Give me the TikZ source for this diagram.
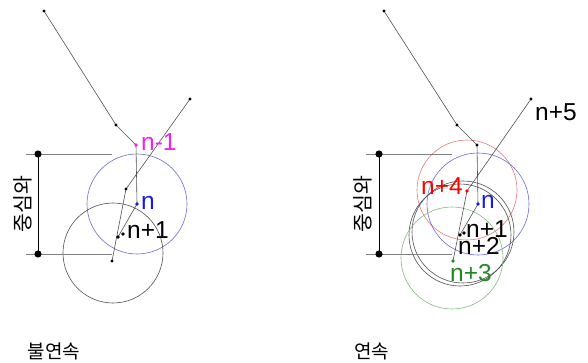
\documentclass[tikz,border=0pt]{standalone}
\usepackage{fontspec}
\setmainfont{Liberation Sans}
\newfontfamily\kor{Noto Sans CJK KR}
\definecolor{lnk}{HTML}{505050}
\definecolor{dim}{HTML}{808080}
\definecolor{cblue}{HTML}{6A6AD8}
\definecolor{tblue}{HTML}{1A1AE6}
\definecolor{cred}{HTML}{E07A7A}
\definecolor{cgreen}{HTML}{7DBB7D}
\definecolor{tgreen}{HTML}{238A23}
\definecolor{tmag}{HTML}{F020F0}

\begin{document}
\begin{tikzpicture}[x=1pt,y=-1pt,
    lbl/.style={inner sep=0pt,anchor=base west,font=\fontsize{24.5}{24.5}\selectfont},
    kr/.style={inner sep=0pt,font=\kor\fontsize{19}{19}\selectfont},
    krv/.style={inner sep=0pt,rotate=90,font=\kor\fontsize{20.5}{20.5}\selectfont}]
    \useasboundingbox (0,0) rectangle (588,363);

    % left: 불연속
    \coordinate (la) at (44,11);
    \coordinate (lb) at (116,125);
    \coordinate (lp) at (136,145);
    \coordinate (ln) at (137,204);
    \coordinate (lq) at (118,237);
    \coordinate (lr) at (123,234);
    \coordinate (lt) at (190,99);
    \coordinate (lu) at (126,189);
    \coordinate (lv) at (112,261);
    \coordinate (lc) at (113,253);

    \draw[cblue,line width=0.6pt] (ln) circle (50pt);
    \draw[lnk,line width=0.6pt] (lc) circle (50pt);
    \draw[lnk,line width=0.6pt] (la)--(lb)--(lp)--(ln)--(lq);
    \draw[lnk,line width=0.6pt] (lt)--(lu)--(lv);

    \fill (la) circle (1.6pt);
    \fill (lb) circle (1.6pt);
    \fill[tmag] (lp) circle (1.8pt);
    \fill[tblue] (ln) circle (1.8pt);
    \fill (lq) circle (1.8pt);
    \fill (lr) circle (1.8pt);
    \fill (lt) circle (1.6pt);
    \fill (lu) circle (1.6pt);
    \fill (lv) circle (1.6pt);

    \node[lbl,tmag] (lnm) at (141,151) {n-1};
    \node[lbl,tblue] (lnn) at (141,210) {n};
    \node[lbl] (lnp) at (127,238) {n+1};

    \coordinate (ld1) at (38,154);
    \coordinate (ld2) at (38,254);
    \draw[dim,line width=0.9pt] (26,154)--(112,154);
    \draw[dim,line width=0.9pt] (26,254)--(112,254);
    \draw[line width=0.6pt] (ld1)--(ld2);
    \fill (ld1) circle (3.6pt);
    \fill (ld2) circle (3.6pt);
    \node[krv] (lkor) at (22.5,204) {중심와};
    \node[kr] (ltitle) at (54,351) {불연속};

    % right: 연속
    \coordinate (ra) at (384,11);
    \coordinate (rb) at (457,125);
    \coordinate (rp) at (477,145);
    \coordinate (rn) at (478,204);
    \coordinate (rq) at (460,235);
    \coordinate (rr) at (464,233);
    \coordinate (rt) at (531,99);
    \coordinate (ru) at (467,191);
    \coordinate (rv) at (453,261);

    \draw[cred,line width=0.6pt] (467,190) circle (50pt);
    \draw[cblue,line width=0.6pt] (rn) circle (51pt);
    \draw[lnk,line width=0.6pt] (460,235) circle (51pt);
    \draw[lnk,line width=0.6pt] (463,232) circle (51pt);
    \draw[cgreen,line width=0.6pt] (452,258) circle (51pt);
    \draw[lnk,line width=0.6pt] (ra)--(rb)--(rp)--(rn)--(rq);
    \draw[lnk,line width=0.6pt] (rt)--(ru)--(rv);

    \fill (ra) circle (1.6pt);
    \fill (rb) circle (1.6pt);
    \fill (rp) circle (1.6pt);
    \fill[tblue] (rn) circle (1.8pt);
    \fill (rq) circle (1.8pt);
    \fill (rr) circle (1.8pt);
    \fill (rt) circle (1.6pt);
    \fill[red] (ru) circle (1.8pt);
    \fill[tgreen] (rv) circle (1.8pt);

    \node[lbl] (rn5) at (535,121) {n+5};
    \node[lbl,red] (rn4) at (421,195) {n+4};
    \node[lbl,tblue] (rnn) at (481,208) {n};
    \node[lbl] (rn1) at (466,237) {n+1};
    \node[lbl] (rn2) at (458,254) {n+2};
    \node[lbl,tgreen] (rn3) at (450,281) {n+3};

    \coordinate (rd1) at (379,154);
    \coordinate (rd2) at (379,254);
    \draw[dim,line width=0.9pt] (366,154)--(452,154);
    \draw[dim,line width=0.9pt] (366,254)--(452,254);
    \draw[line width=0.6pt] (rd1)--(rd2);
    \fill (rd1) circle (3.6pt);
    \fill (rd2) circle (3.6pt);
    \node[krv] (rkor) at (362.5,204) {중심와};
    \node[kr] (rtitle) at (371.5,351) {연속};
\end{tikzpicture}
\end{document}
